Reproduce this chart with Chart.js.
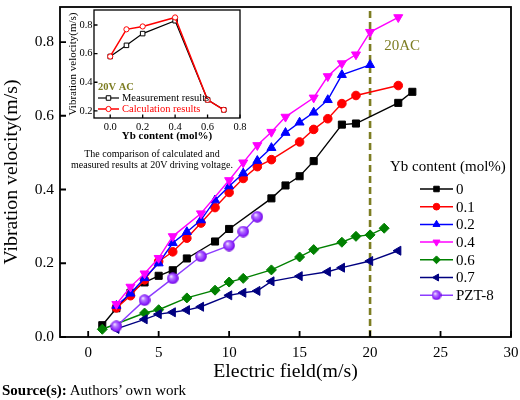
<!DOCTYPE html>
<html><head><meta charset="utf-8">
<script src="https://cdn.jsdelivr.net/npm/chart.js@4.4.1/dist/chart.umd.min.js"></script>
<style>
html,body{margin:0;padding:0;background:#fff;}
#wrap{position:relative;width:520px;height:400px;overflow:hidden;font-family:"Liberation Serif","Times New Roman",serif;background:#fff;}
#main{position:absolute;left:0;top:0;}
#inset{position:absolute;left:62px;top:4px;}
.cap{position:absolute;left:52px;width:200px;top:147.5px;text-align:center;font-size:10px;line-height:11.5px;color:#000;white-space:nowrap;}
.src{position:absolute;left:2px;top:382px;font-size:15px;color:#000;}
</style></head><body>
<div id="wrap">
<canvas id="main" width="520" height="400"></canvas>
<canvas id="inset" width="190" height="140"></canvas>
<div class="cap">The comparison of calculated and<br>measured results at 20V driving voltage.</div>
<div class="src"><b>Source(s):</b> Authors’ own work</div>
</div>
<script>
// ---------------- data (main chart) ----------------
const seriesLabels = ['0', '0.1', '0.2', '0.4', '0.6', '0.7', 'PZT-8'];

const field00 = [1, 2, 3, 4, 5, 6, 7, 9, 10, 13, 14, 15, 16, 18, 19, 22, 23];
const vel00   = [0.032, 0.078, 0.12, 0.148, 0.166, 0.181, 0.213, 0.259, 0.293, 0.376, 0.411, 0.436, 0.477, 0.576, 0.579, 0.635, 0.665];

const field01 = [2, 3, 4, 5, 6, 7, 8, 9, 10, 11, 12, 13, 15, 16, 17, 18, 19, 22];
const vel01   = [0.079, 0.112, 0.155, 0.205, 0.231, 0.268, 0.309, 0.351, 0.392, 0.43, 0.462, 0.481, 0.529, 0.563, 0.592, 0.633, 0.655, 0.682];

const field02 = [2, 3, 4, 5, 6, 7, 8, 9, 10, 11, 12, 13, 14, 15, 16, 17, 18, 20];
const vel02   = [0.085, 0.118, 0.16, 0.2, 0.255, 0.285, 0.317, 0.371, 0.409, 0.444, 0.478, 0.513, 0.554, 0.582, 0.609, 0.643, 0.711, 0.738];

const field04 = [2, 3, 4, 5, 6, 8, 10, 11, 12, 13, 14, 16, 17, 18, 19, 20, 22];
const vel04   = [0.089, 0.136, 0.172, 0.214, 0.273, 0.335, 0.425, 0.473, 0.52, 0.556, 0.597, 0.649, 0.707, 0.742, 0.766, 0.827, 0.867];

const field06 = [1, 4, 5, 7, 9, 10, 11, 13, 15, 16, 18, 19, 20, 21];
const vel06   = [0.021, 0.065, 0.074, 0.106, 0.127, 0.149, 0.159, 0.182, 0.217, 0.237, 0.257, 0.273, 0.277, 0.295];

const field07 = [2, 4, 5, 6, 7, 8, 10, 11, 12, 13, 15, 17, 18, 20, 22];
const vel07   = [0.022, 0.048, 0.062, 0.067, 0.073, 0.082, 0.113, 0.12, 0.125, 0.151, 0.165, 0.177, 0.188, 0.206, 0.234];

const fieldPZT = [2, 4, 6, 8, 10, 11, 12];
const velPZT   = [0.029, 0.1, 0.159, 0.219, 0.248, 0.286, 0.326];

const xTicks = [0, 5, 10, 15, 20, 25, 30];
const yTicks = [0, 0.2, 0.4, 0.6, 0.8];
const xMin = -2, xMax = 30, yMin = 0, yMax = 0.895;
const refField = 20;
const refLabel = '20AC';
const legendTitle = 'Yb content (mol%)';

// ---------------- data (inset) ----------------
const ybContent  = [0, 0.1, 0.2, 0.4, 0.6, 0.7];
const measured   = [0.58, 0.658, 0.74, 0.83, 0.277, 0.207];
const calculated = [0.58, 0.77, 0.79, 0.853, 0.277, 0.207];
const insetXTicks = [0, 0.2, 0.4, 0.6, 0.8];
const insetYTicks = [0.2, 0.4, 0.6, 0.8];
const insetXMin = -0.1, insetXMax = 0.8, insetYMin = 0.15, insetYMax = 0.905;

// ---------------- helpers ----------------
const FONT = '"Liberation Serif", "Times New Roman", serif';
function pts(xs, ys) { return xs.map((x, i) => ({ x: x, y: ys[i] })); }

function sphere(d) {
  const c = document.createElement('canvas');
  c.width = c.height = d;
  const g = c.getContext('2d');
  const r = d / 2;
  const grd = g.createRadialGradient(r * 0.7, r * 0.65, 0.3, r, r, r);
  grd.addColorStop(0, '#f6ecff');
  grd.addColorStop(0.3, '#b779ff');
  grd.addColorStop(0.75, '#8a22ff');
  grd.addColorStop(1, '#6a00d0');
  g.fillStyle = grd;
  g.beginPath(); g.arc(r, r, r - 0.2, 0, Math.PI * 2); g.fill();
  return c;
}
const sphereBig = sphere(12);
const sphereSmall = sphere(10);

function mkSet(i, xs, ys, color, style, radius, rotation, order, extra) {
  return Object.assign({
    label: seriesLabels[i],
    data: pts(xs, ys),
    showLine: true,
    borderColor: color,
    backgroundColor: color,
    pointBackgroundColor: color,
    pointBorderColor: color,
    borderWidth: 1.4,
    pointStyle: style,
    pointRadius: radius,
    pointHoverRadius: radius,
    pointRotation: rotation,
    pointBorderWidth: 1,
    order: order,
    inLegend: true,
    tension: 0
  }, extra || {});
}

const framePlugin = {
  id: 'frame',
  afterDraw(chart, args, opts) {
    const ctx = chart.ctx, a = chart.chartArea;
    const xs = chart.scales.x, ys = chart.scales.y;
    ctx.save();
    ctx.strokeStyle = '#000';
    ctx.lineWidth = opts.lw;
    ctx.strokeRect(a.left, a.top, a.right - a.left, a.bottom - a.top);
    ctx.beginPath();
    xs.ticks.forEach(t => { const p = xs.getPixelForValue(t.value); ctx.moveTo(p, a.bottom); ctx.lineTo(p, a.bottom - opts.len); });
    ys.ticks.forEach(t => { const p = ys.getPixelForValue(t.value); ctx.moveTo(a.left, p); ctx.lineTo(a.left + opts.len, p); });
    ctx.stroke();
    ctx.restore();
  }
};

const mainDecor = {
  id: 'mainDecor',
  afterDatasetsDraw(chart) {
    const ctx = chart.ctx;
    const xs = chart.scales.x, ys = chart.scales.y;
    ctx.save();
    // 20AC label
    ctx.font = '15px ' + FONT;
    ctx.fillStyle = '#7d7d22';
    ctx.textAlign = 'left';
    ctx.textBaseline = 'middle';
    ctx.fillText(refLabel, xs.getPixelForValue(refField + 1), ys.getPixelForValue(0.79));
    // legend
    ctx.fillStyle = '#000';
    ctx.fillText(legendTitle, 390, 167);
    const sets = chart.data.datasets.filter(d => d.inLegend);
    sets.forEach((d, i) => {
      const y = 189 + i * 17.7;
      ctx.strokeStyle = d.borderColor;
      ctx.lineWidth = 1.5;
      ctx.setLineDash([]);
      ctx.beginPath(); ctx.moveTo(420, y); ctx.lineTo(453, y); ctx.stroke();
      ctx.fillStyle = d.pointBackgroundColor;
      ctx.strokeStyle = d.pointBorderColor;
      ctx.lineWidth = 1;
      Chart.helpers.drawPoint(ctx, {
        pointStyle: d.legendStyle || d.pointStyle,
        rotation: d.pointRotation || 0,
        radius: d.pointRadius * 0.78,
        borderWidth: 1
      }, 436.5, y);
      ctx.fillStyle = '#000';
      ctx.fillText(d.label, 456, y + 1);
    });
    ctx.restore();
  }
};

// ---------------- main chart ----------------
const mainSets = [
  mkSet(0, field00, vel00, '#000000', 'rect', 5, 0, 7),
  mkSet(1, field01, vel01, '#ff0000', 'circle', 4.3, 0, 6),
  mkSet(2, field02, vel02, '#0000ff', 'triangle', 5.2, 0, 5),
  mkSet(3, field04, vel04, '#ff00ff', 'triangle', 5.2, 180, 4),
  mkSet(4, field06, vel06, '#008000', 'rectRot', 5, 0, 3),
  mkSet(5, field07, vel07, '#000080', 'triangle', 5.2, 270, 2),
  mkSet(6, fieldPZT, velPZT, '#8c3cff', sphereBig, 6, 0, 1, { legendStyle: sphereSmall, pointBackgroundColor: '#8a22ff', pointBorderColor: '#8a22ff' }),
  {
    label: 'ref',
    data: [{ x: refField, y: yMin }, { x: refField, y: yMax }],
    showLine: true,
    borderColor: '#7d7d22',
    borderWidth: 2.6,
    borderDash: [7, 4],
    pointRadius: 0,
    order: 10,
    inLegend: false
  }
];

new Chart(document.getElementById('main'), {
  type: 'scatter',
  data: { datasets: mainSets },
  options: {
    responsive: false,
    animation: false,
    events: [],
    layout: { padding: { left: 0, right: 9, top: 3, bottom: 15 } },
    plugins: {
      legend: { display: false },
      tooltip: { enabled: false },
      frame: { lw: 1.8, len: 6 }
    },
    scales: {
      x: {
        type: 'linear', min: xMin, max: xMax,
        afterBuildTicks: s => { s.ticks = xTicks.map(v => ({ value: v })); },
        afterFit: s => { s.height = 48; s.paddingLeft = 0; s.paddingRight = 0; },
        grid: { display: false, drawTicks: false, tickLength: 0 },
        border: { display: false },
        ticks: { color: '#000', font: { family: FONT, size: 15 }, padding: 7, maxRotation: 0, autoSkip: false, callback: v => String(v) },
        title: { display: true, text: 'Electric field(m/s)', color: '#000', font: { family: FONT, size: 19.8 }, padding: { top: 0, bottom: 1 } }
      },
      y: {
        type: 'linear', min: yMin, max: yMax,
        afterBuildTicks: s => { s.ticks = yTicks.map(v => ({ value: v })); },
        afterFit: s => { s.width = 60; s.paddingTop = 0; s.paddingBottom = 0; },
        grid: { display: false, drawTicks: false, tickLength: 0 },
        border: { display: false },
        ticks: { color: '#000', font: { family: FONT, size: 15.5 }, padding: 6, autoSkip: false, callback: v => Number(v).toFixed(1) },
        title: { display: true, text: 'Vibration velocity(m/s)', color: '#000', font: { family: FONT, size: 19.8 }, padding: { top: 0, bottom: 0 } }
      }
    }
  },
  plugins: [framePlugin, mainDecor]
});

// ---------------- inset chart ----------------
const insetDecor = {
  id: 'insetDecor',
  afterDatasetsDraw(chart) {
    const ctx = chart.ctx;
    ctx.save();
    ctx.textAlign = 'left';
    ctx.textBaseline = 'middle';
    ctx.font = 'bold 10.5px ' + FONT;
    ctx.fillStyle = '#7d7d22';
    ctx.fillText('20V AC', 36, 83);
    const items = chart.data.datasets;
    items.forEach((d, i) => {
      const y = 94 + i * 11;
      ctx.strokeStyle = d.borderColor;
      ctx.lineWidth = d.borderWidth;
      ctx.beginPath(); ctx.moveTo(36, y); ctx.lineTo(57, y); ctx.stroke();
      ctx.fillStyle = '#fff';
      ctx.lineWidth = 1;
      Chart.helpers.drawPoint(ctx, { pointStyle: d.pointStyle, rotation: 0, radius: d.pointRadius, borderWidth: 1 }, 46.5, y);
      ctx.font = '10.5px ' + FONT;
      ctx.fillStyle = d.borderColor === '#000000' ? '#000' : '#ff0000';
      ctx.fillText(d.label, 60, y + 0.5);
    });
    ctx.restore();
  }
};

new Chart(document.getElementById('inset'), {
  type: 'scatter',
  data: {
    datasets: [
      {
        label: 'Measurement results', data: pts(ybContent, measured), showLine: true,
        borderColor: '#000000', borderWidth: 1.2, pointStyle: 'rect', pointRadius: 3.2,
        pointBackgroundColor: '#ffffff', pointBorderColor: '#000000', pointBorderWidth: 1, order: 2
      },
      {
        label: 'Calculation results', data: pts(ybContent, calculated), showLine: true,
        borderColor: '#ff0000', borderWidth: 1.5, pointStyle: 'circle', pointRadius: 2.6,
        pointBackgroundColor: '#ffffff', pointBorderColor: '#ff0000', pointBorderWidth: 1, order: 1
      }
    ]
  },
  options: {
    responsive: false,
    animation: false,
    events: [],
    layout: { padding: { left: 0, right: 12, top: 6, bottom: 1 } },
    plugins: {
      legend: { display: false },
      tooltip: { enabled: false },
      frame: { lw: 1.3, len: 3.5 }
    },
    scales: {
      x: {
        type: 'linear', min: insetXMin, max: insetXMax,
        afterBuildTicks: s => { s.ticks = insetXTicks.map(v => ({ value: v })); },
        afterFit: s => { s.height = 25; s.paddingLeft = 0; s.paddingRight = 0; },
        grid: { display: false, drawTicks: false, tickLength: 0 },
        border: { display: false },
        ticks: { color: '#000', font: { family: FONT, size: 10.5 }, padding: 2.5, maxRotation: 0, autoSkip: false, callback: v => Number(v).toFixed(1) },
        title: { display: true, text: 'Yb content (mol%)', color: '#000', font: { family: FONT, size: 11, weight: 'bold' }, padding: { top: 0, bottom: 0 } }
      },
      y: {
        type: 'linear', min: insetYMin, max: insetYMax,
        afterBuildTicks: s => { s.ticks = insetYTicks.map(v => ({ value: v })); },
        afterFit: s => { s.width = 32; s.paddingTop = 0; s.paddingBottom = 0; },
        grid: { display: false, drawTicks: false, tickLength: 0 },
        border: { display: false },
        ticks: { color: '#000', font: { family: FONT, size: 10.5 }, padding: 1.5, autoSkip: false, callback: v => Number(v).toFixed(1) },
        title: { display: true, text: 'Vibration velocity(m/s)', color: '#000', font: { family: FONT, size: 11 }, padding: { top: 5, bottom: 0 } }
      }
    }
  },
  plugins: [framePlugin, insetDecor]
});
</script>
</body></html>
